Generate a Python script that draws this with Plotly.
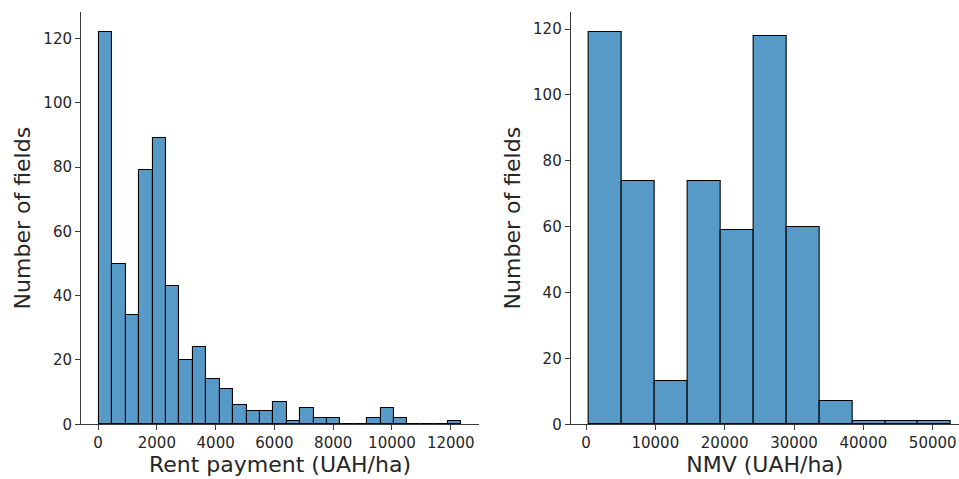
import plotly.graph_objects as go

# Rent payment histogram (UAH/ha)
rent_bin_start = 34
rent_bin_size = 456
rent_counts = [122, 50, 34, 79, 89, 43, 20, 24, 14, 11, 6, 4, 4, 7, 1, 5, 2, 2, 0, 0, 2, 5, 2, 0, 0, 0, 1]
rent_ticks = [0, 2000, 4000, 6000, 8000, 10000, 12000]

# NMV histogram (UAH/ha)
nmv_bin_start = 390
nmv_bin_size = 4751
nmv_counts = [119, 74, 13, 74, 59, 118, 60, 7, 1, 1, 1]
nmv_ticks = [0, 10000, 20000, 30000, 40000, 50000]

y_ticks = [0, 20, 40, 60, 80, 100, 120]

BAR_COLOR = "#5799C7"
TEXT = "#262626"
LINE = "#3a3a3a"
W, H = 959, 479


def centers(start, size, n):
    return [start + size * (i + 0.5) for i in range(n)]


fig = go.Figure()
fig.add_trace(go.Bar(
    x=centers(rent_bin_start, rent_bin_size, len(rent_counts)),
    y=rent_counts, width=rent_bin_size,
    marker=dict(color=BAR_COLOR, line=dict(color="black", width=1.1)),
    xaxis="x", yaxis="y", showlegend=False, hoverinfo="x+y"))
fig.add_trace(go.Bar(
    x=centers(nmv_bin_start, nmv_bin_size, len(nmv_counts)),
    y=nmv_counts, width=nmv_bin_size,
    marker=dict(color=BAR_COLOR, line=dict(color="black", width=1.1)),
    xaxis="x2", yaxis="y2", showlegend=False, hoverinfo="x+y"))

ybot = (H - 424.3) / H
ytop = (H - 12) / H

axis_common = dict(showline=True, linecolor=LINE, linewidth=1, ticks="outside",
                   ticklen=5, tickwidth=1, tickcolor=LINE, showgrid=False,
                   zeroline=False, automargin=False,
                   tickfont=dict(family="DejaVu Sans", size=15, color=TEXT))
title_font = dict(family="DejaVu Sans", size=22, color=TEXT)

rent_end = rent_bin_start + rent_bin_size * len(rent_counts)
rent_span = rent_end - rent_bin_start

fig.update_layout(
    width=W, height=H,
    margin=dict(l=0, r=0, t=0, b=0),
    paper_bgcolor="white", plot_bgcolor="white",
    bargap=0,
    xaxis=dict(domain=[81 / W, 479 / W],
               range=[rent_bin_start - 0.05 * rent_span, rent_end + 0.05 * rent_span],
               tickvals=rent_ticks, ticktext=[str(t) for t in rent_ticks], anchor="y",
               title=dict(text="Rent payment (UAH/ha)", font=title_font, standoff=4),
               **axis_common),
    yaxis=dict(domain=[ybot, ytop], range=[0, 128.2], tickvals=y_ticks, anchor="x",
               title=dict(text="Number of fields", font=title_font, standoff=6),
               **axis_common),
    xaxis2=dict(domain=[570.7 / W, 1.0], range=[-2207, 53793],
                tickvals=nmv_ticks, ticktext=[str(t) for t in nmv_ticks], anchor="y2",
                title=dict(text="NMV (UAH/ha)", font=title_font, standoff=4),
                **axis_common),
    yaxis2=dict(domain=[ybot, ytop], range=[0, 125.2], tickvals=y_ticks, anchor="x2",
                title=dict(text="Number of fields", font=title_font, standoff=6),
                **axis_common),
)

fig.write_html("out.html")
